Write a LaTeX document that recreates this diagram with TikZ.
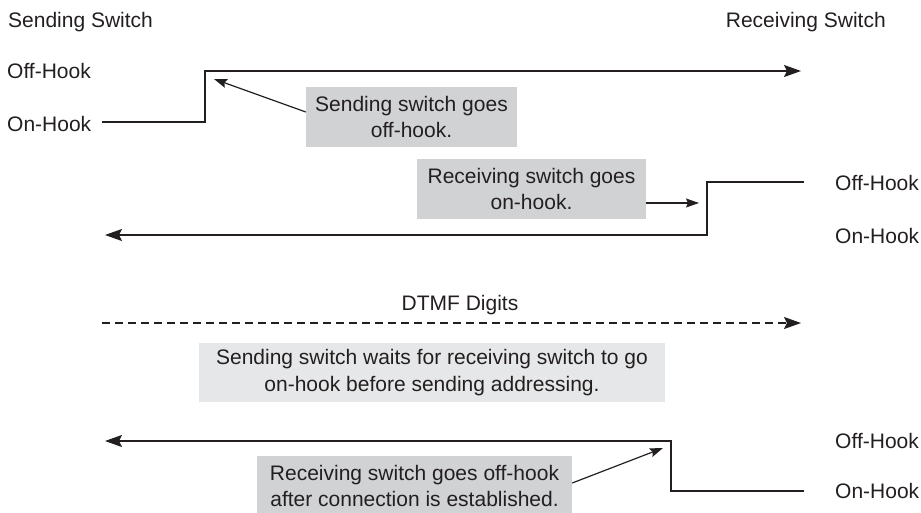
\documentclass[tikz,border=0pt]{standalone}
\usepackage{fontspec}
\setmainfont{Liberation Sans}
\usetikzlibrary{arrows.meta}
\definecolor{notegray}{HTML}{D1D2D4}
\definecolor{notelight}{HTML}{E6E7E8}
\definecolor{ink}{HTML}{231F20}
\begin{document}
\begin{tikzpicture}[x=1pt,y=-1pt,
  lbl/.style={font=\fontsize{21}{26.5}\selectfont, text=ink, inner sep=0pt},
  note/.style={lbl, fill=notegray, align=center, inner sep=0pt},
  sig/.style={draw=ink, line width=2pt, line join=miter,
    -{Stealth[length=17pt,width=12pt,inset=3pt]}},
  ptr/.style={draw=ink, line width=1.2pt,
    -{Stealth[length=13pt,width=9pt,inset=2pt]}},
  dtmf/.style={draw=ink, line width=1.6pt, dash pattern=on 8pt off 5pt,
    -{Stealth[length=17pt,width=12pt,inset=3pt]}}]
\useasboundingbox (0,0) rectangle (921,512);
\clip (0,0) rectangle (921,512);

% headings
\node[lbl, anchor=west] (send) at (8,22) {Sending Switch};
\node[lbl, anchor=east] (recv) at (886,22) {Receiving Switch};

% state labels, sending side
\node[lbl, anchor=west] (soff) at (7,71) {Off-Hook};
\node[lbl, anchor=west] (son) at (7,124) {On-Hook};

% state labels, receiving side
\node[lbl, anchor=west] (roff1) at (835,183) {Off-Hook};
\node[lbl, anchor=west] (ron1) at (835,236) {On-Hook};
\node[lbl, anchor=west] (roff2) at (835,441) {Off-Hook};
\node[lbl, anchor=west] (ron2) at (835,491) {On-Hook};

% step 1: sending switch seizes the trunk
\coordinate (a0) at (102,122);
\coordinate (a1) at (205,122);
\coordinate (a2) at (205,71);
\coordinate (a3) at (801,71);
\draw[sig] (a0) -- (a1) -- (a2) -- (a3);
\node[note, minimum width=211pt, minimum height=60pt] (n1) at (411.5,117)
  {Sending switch goes\\off-hook.};
\coordinate (t1) at (214,79);
\draw[ptr] ([yshift=5pt]n1.west) -- (t1);

% step 2: receiving switch answers with on-hook
\coordinate (b0) at (804,182);
\coordinate (b1) at (707,182);
\coordinate (b2) at (707,235);
\coordinate (b3) at (105,235);
\draw[sig] (b0) -- (b1) -- (b2) -- (b3);
\node[note, minimum width=229pt, minimum height=60pt] (n2) at (531.5,189)
  {Receiving switch goes\\on-hook.};
\coordinate (t2) at (699,203);
\draw[ptr] ([yshift=-14pt]n2.east) -- (t2);

% step 3: addressing
\coordinate (c0) at (102,323);
\coordinate (c1) at (801,323);
\draw[dtmf] (c0) -- (c1);
\node[lbl] (dt) at (460,305) {DTMF Digits};
\node[note, fill=notelight, minimum width=466pt, minimum height=59pt] (n3) at (432,372.5)
  {Sending switch waits for receiving switch to go\\on-hook before sending addressing.};

% step 4: receiving switch answers the call
\coordinate (d0) at (804,491);
\coordinate (d1) at (671,491);
\coordinate (d2) at (671,441);
\coordinate (d3) at (105,441);
\draw[sig] (d0) -- (d1) -- (d2) -- (d3);
\node[note, minimum width=315pt, minimum height=60pt] (n4) at (414.5,486)
  {Receiving switch goes off-hook\\after connection is established.};
\coordinate (t4) at (663,448);
\draw[ptr] ([yshift=3pt]n4.east) -- (t4);
\end{tikzpicture}
\end{document}
